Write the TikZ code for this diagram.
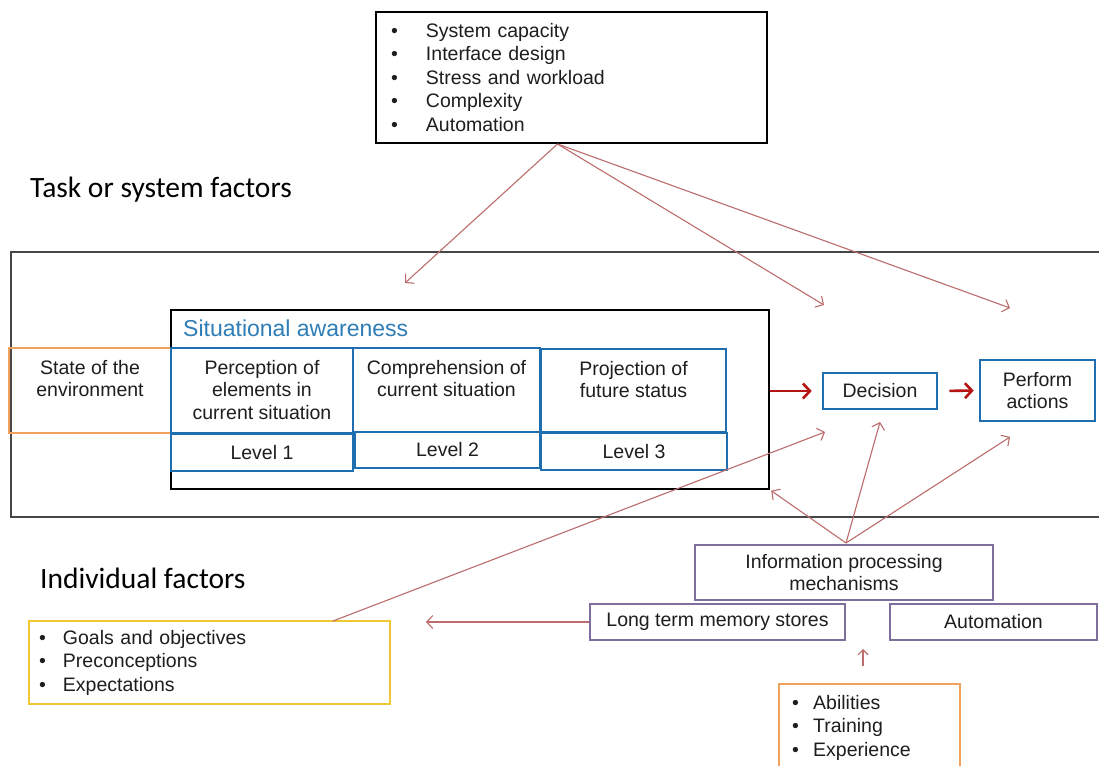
\documentclass[tikz,border=0pt]{standalone}
\usepackage{fontspec}
\setmainfont{Liberation Sans}
\newfontfamily\headfont{Carlito}
\usetikzlibrary{arrows.meta,calc}

\definecolor{sablue}{RGB}{31,110,176}
\definecolor{titleblue}{RGB}{46,125,182}
\definecolor{envorange}{RGB}{240,162,92}
\definecolor{goalyellow}{RGB}{238,200,50}
\definecolor{procpurple}{RGB}{125,110,155}
\definecolor{linkred}{RGB}{188,108,108}
\definecolor{flowred}{RGB}{180,20,20}
\definecolor{framegray}{RGB}{70,70,70}
\definecolor{inktext}{RGB}{30,30,30}

% bullet item with a fixed indent
\newcommand{\bul}[2][35pt]{\makebox[#1][l]{•}#2}

\tikzset{
  base/.style={rectangle, inner sep=0pt, align=center, text=inktext,
    font=\fontsize{19.5}{22.5}\selectfont},
  listfont/.style={font=\fontsize{19.5}{23.5}\selectfont},
  topfactors/.style={base, draw=black, line width=2pt},
  frame/.style={base, draw=framegray, line width=1.3pt},
  sacontainer/.style={base, draw=black, line width=1.1pt},
  sabox/.style={base, draw=sablue, line width=2.6pt},
  envbox/.style={base, draw=envorange, line width=2pt},
  goalbox/.style={base, draw=goalyellow, line width=2pt},
  skillbox/.style={base, draw=envorange, line width=2pt},
  procbox/.style={base, draw=procpurple, line width=2.2pt},
  boxtext/.style={base, anchor=north},
  heading/.style={anchor=west, inner sep=0pt, text=black,
    font=\headfont\fontsize{29.5}{33}\selectfont},
  link/.style={draw=linkred, line width=1.1pt,
    -{Straight Barb[length=6pt,width=13pt]}},
  flow/.style={draw=flowred, line width=2.6pt,
    -{Straight Barb[length=7pt,width=15pt]}},
}

\begin{document}
\begin{tikzpicture}[x=1pt,y=-1pt]
\useasboundingbox[fill=white] (0,0) rectangle (1099,765);

% task / system factors
\node[topfactors, listfont, minimum width=391pt, minimum height=131pt,
      text width=361pt, align=left] (sys) at (571.5,77.5)
  {\bul{System capacity}\\\bul{Interface design}\\\bul{Stress and workload}\\\bul{Complexity}\\\bul{Automation}};
\node[heading] (taskhead) at (30,190) {Task or system factors};

% outer region
\node[frame, minimum width=1104pt, minimum height=265pt] (region) at (563,384.5) {};

% situational awareness container
\node[sacontainer, minimum width=598pt, minimum height=179pt] (sa) at (470,399.5) {};
\node[anchor=west, inner sep=0pt, text=titleblue,
      font=\fontsize{23}{26}\selectfont] (satitle) at (183,328) {Situational awareness};

% environment and the three levels
\node[envbox, minimum width=162pt, minimum height=85pt] (env) at (90,390.5) {};
\node[sabox, minimum width=182pt, minimum height=85pt] (perc) at (262,390.5) {};
\node[sabox, minimum width=187pt, minimum height=84pt] (comp) at (446.5,390) {};
\node[sabox, minimum width=185pt, minimum height=83pt] (proj) at (633.5,390.5) {};
\node[boxtext] (envtext) at ($(env.north)+(0,13)$) {State of the\\environment};
\node[boxtext] (perctext) at ($(perc.north)+(0,13)$) {Perception of\\elements in\\current situation};
\node[boxtext] (comptext) at ($(comp.north)+(0,13)$) {Comprehension of\\current situation};
\node[boxtext] (projtext) at ($(proj.north)+(0,13)$) {Projection of\\future status};

\node[sabox, minimum width=182pt, minimum height=37pt] (lev1) at (262,452.5) {Level 1};
\node[sabox, minimum width=185pt, minimum height=36pt] (lev2) at (447.5,450) {Level 2};
\node[sabox, minimum width=186pt, minimum height=37pt] (lev3) at (634,451.5) {Level 3};

% decision and action
\node[sabox, minimum width=114pt, minimum height=36pt] (decision) at (880,391) {Decision};
\node[sabox, minimum width=115pt, minimum height=61pt] (perform) at (1037.5,390.5) {Perform\\actions};

\draw[flow, shorten <=0pt, shorten >=10pt] (sa.east |- decision.west) -- (decision.west);
\draw[flow, shorten <=11pt, shorten >=5pt] (decision.east) -- (perform.west);

% individual factors
\node[heading] (indhead) at (40,578) {Individual factors};
\node[goalbox, listfont, minimum width=361pt, minimum height=83pt,
      text width=341pt, align=left] (goals) at (209.5,662.5)
  {\bul[24pt]{Goals and objectives}\\\bul[24pt]{Preconceptions}\\\bul[24pt]{Expectations}};

\node[procbox, minimum width=298pt, minimum height=55pt] (ipm) at (844,572.5) {Information processing\\mechanisms};
\node[procbox, minimum width=255pt, minimum height=36pt] (ltm) at (717.5,622) {Long term memory stores};
\node[procbox, minimum width=207pt, minimum height=36pt] (auto) at (993.5,622) {Automation};

\node[skillbox, minimum width=181pt, minimum height=100pt] (skills) at (869,734) {};
\node[base, listfont, anchor=north west, align=left] (skilltext) at (792,695)
  {\bul[21pt]{Abilities}\\\bul[21pt]{Training}\\\bul[21pt]{Experience}};

% influence links
\coordinate (sysout) at ($(sys.south)+(-14,0)$);
\coordinate (toSA) at (405,283);
\coordinate (toDec) at (824,305);
\coordinate (toAct) at (1010,308);
\draw[link] (sysout) -- (toSA);
\draw[link] (sysout) -- (toDec);
\draw[link] (sysout) -- (toAct);

\coordinate (ipmtop) at (846,543);
\coordinate (decin) at (880,422);
\coordinate (actin) at (1010,437);
\draw[link, shorten >=2pt] (ipmtop) -- (sa.south east);
\draw[link] (ipmtop) -- (decin);
\draw[link] (ipmtop) -- (actin);

\coordinate (goalsout) at (333,621);
\coordinate (decleft) at (825,432);
\draw[link] (goalsout) -- (decleft);

\draw[link, shorten >=35pt] (ltm.west) -- (goals.east |- ltm.west);

\coordinate (skillsup) at (863,666);
\coordinate (skillstip) at (863,649);
\draw[link, -{Straight Barb[length=5pt,width=10pt]}] (skillsup) -- (skillstip);
\end{tikzpicture}
\end{document}
